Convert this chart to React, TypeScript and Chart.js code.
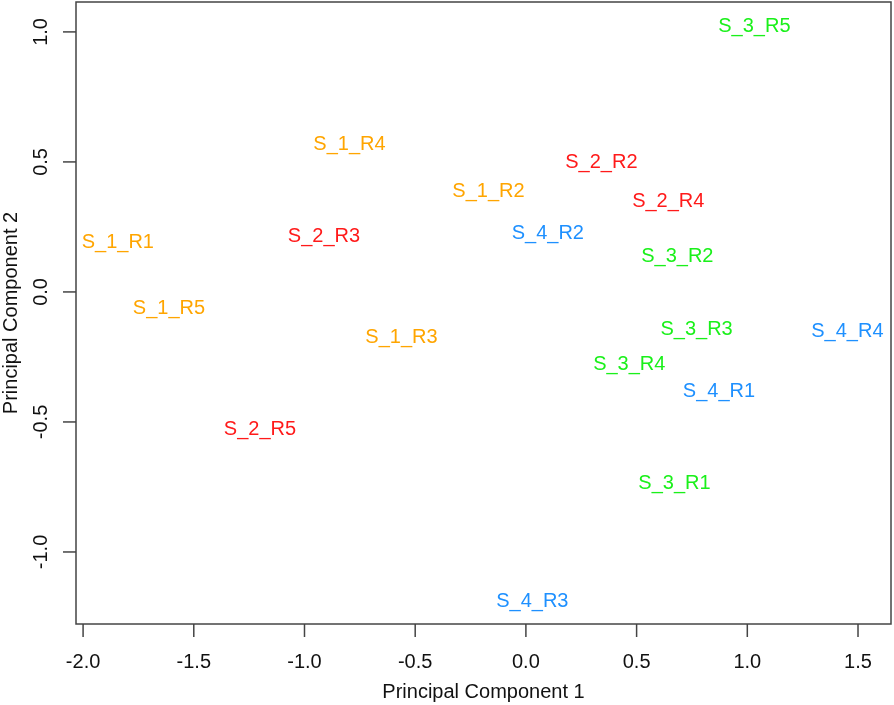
import React, { useEffect, useRef } from "react";
import { Chart, registerables } from "chart.js";

Chart.register(...registerables);

const sampleLabels = [
  "S_1_R1", "S_1_R2", "S_1_R3", "S_1_R4", "S_1_R5",
  "S_2_R2", "S_2_R3", "S_2_R4", "S_2_R5",
  "S_3_R1", "S_3_R2", "S_3_R3", "S_3_R4", "S_3_R5",
  "S_4_R1", "S_4_R2", "S_4_R3", "S_4_R4",
];
const pc1 = [
  -1.843, -0.169, -0.562, -0.797, -1.612,
  0.341, -0.912, 0.643, -1.201,
  0.671, 0.684, 0.771, 0.467, 1.032,
  0.872, 0.099, 0.029, 1.452,
];
const pc2 = [
  0.196, 0.392, -0.167, 0.575, -0.058,
  0.506, 0.221, 0.354, -0.521,
  -0.729, 0.142, -0.138, -0.273, 1.029,
  -0.375, 0.231, -1.185, -0.146,
];
const groups = [
  1, 1, 1, 1, 1,
  2, 2, 2, 2,
  3, 3, 3, 3, 3,
  4, 4, 4, 4,
];
const groupColors: Record<number, string> = {
  1: "#FFA500",
  2: "#FF1A1A",
  3: "#1AF01A",
  4: "#1E90FF",
};
const xTicks = [-2.0, -1.5, -1.0, -0.5, 0.0, 0.5, 1.0, 1.5];
const yTicks = [-1.0, -0.5, 0.0, 0.5, 1.0];
const xRange = [-2.032, 1.649];
const yRange = [-1.277, 1.115];
const xTitle = "Principal Component 1";
const yTitle = "Principal Component 2";

const FONT = "Liberation Sans, Arial, sans-serif";

const basePlot = {
  id: "basePlot",
  afterDatasetsDraw(chart: any) {
    const ctx = chart.ctx as CanvasRenderingContext2D;
    const area = chart.chartArea;
    const xs = chart.scales.x;
    const ys = chart.scales.y;
    ctx.save();
    // box
    ctx.strokeStyle = "#444";
    ctx.lineWidth = 1.5;
    ctx.strokeRect(area.left, area.top, area.right - area.left, area.bottom - area.top);
    // x ticks
    ctx.fillStyle = "#111";
    ctx.font = `20px ${FONT}`;
    ctx.textAlign = "center";
    ctx.textBaseline = "alphabetic";
    xTicks.forEach((t) => {
      const px = xs.getPixelForValue(t);
      ctx.beginPath();
      ctx.moveTo(px, area.bottom);
      ctx.lineTo(px, area.bottom + 13);
      ctx.stroke();
      ctx.fillText(t.toFixed(1), px, 668);
    });
    // y ticks
    yTicks.forEach((t) => {
      const py = ys.getPixelForValue(t);
      ctx.beginPath();
      ctx.moveTo(area.left, py);
      ctx.lineTo(area.left - 13, py);
      ctx.stroke();
      ctx.save();
      ctx.translate(47, py);
      ctx.rotate(-Math.PI / 2);
      ctx.fillText(t.toFixed(1), 0, 0);
      ctx.restore();
    });
    // titles
    ctx.fillText(xTitle, (area.left + area.right) / 2, 698);
    ctx.save();
    ctx.translate(17, (area.top + area.bottom) / 2);
    ctx.rotate(-Math.PI / 2);
    ctx.fillText(yTitle, 0, 0);
    ctx.restore();
    // point labels
    const meta = chart.getDatasetMeta(0);
    meta.data.forEach((el: any, i: number) => {
      ctx.fillStyle = groupColors[groups[i]];
      ctx.fillText(sampleLabels[i], el.x, el.y + 0.358 * 20);
    });
    ctx.restore();
  },
};

export default function App() {
  const ref = useRef<HTMLCanvasElement>(null);
  useEffect(() => {
    if (!ref.current) return;
    const chart = new Chart(ref.current, {
      type: "scatter",
      data: {
        datasets: [
          {
            data: pc1.map((x, i) => ({ x, y: pc2[i] })),
            pointRadius: 0,
            pointHoverRadius: 0,
          },
        ],
      },
      options: {
        responsive: false,
        animation: false,
        events: [],
        layout: { padding: { left: 76, top: 2, right: 3, bottom: 81 } },
        plugins: { legend: { display: false }, tooltip: { enabled: false } },
        scales: {
          x: { type: "linear", display: false, min: xRange[0], max: xRange[1] },
          y: { type: "linear", display: false, min: yRange[0], max: yRange[1] },
        },
      },
      plugins: [basePlot],
    });
    return () => chart.destroy();
  }, []);
  return (
    <div style={{ position: "fixed", left: 0, top: 0, width: 894, height: 705, background: "#fff" }}>
      <canvas ref={ref} width={894} height={705} />
    </div>
  );
}
